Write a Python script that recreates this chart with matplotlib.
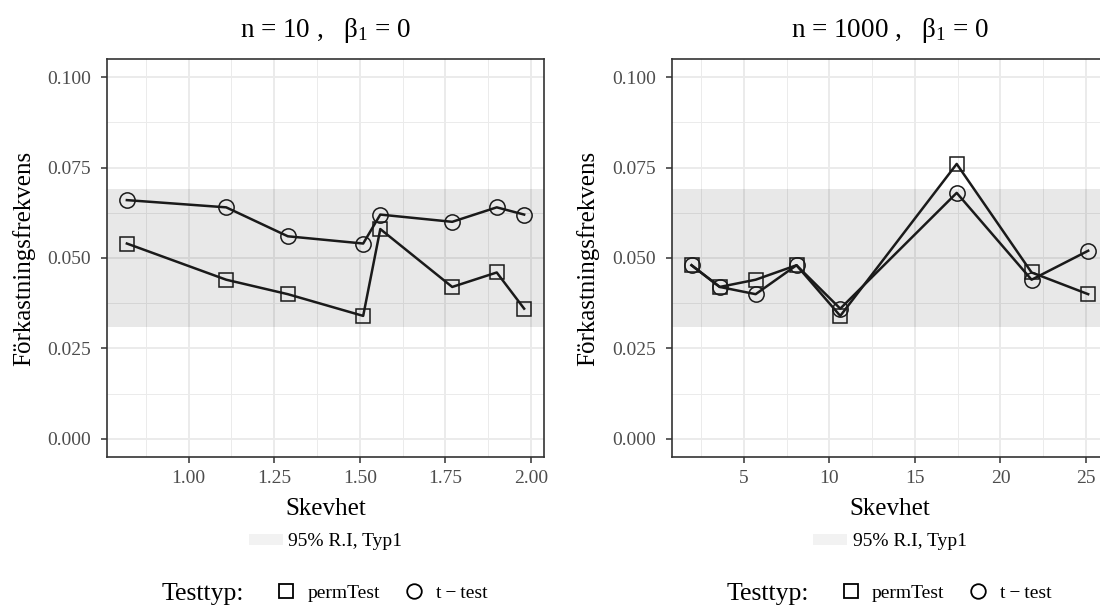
import numpy as np
import matplotlib.pyplot as plt
from matplotlib.lines import Line2D
from matplotlib.patches import Patch
from matplotlib.ticker import FixedLocator, FormatStrFormatter

plt.rcParams['font.family'] = ['Liberation Serif', 'DejaVu Serif']
plt.rcParams['mathtext.fontset'] = 'custom'
plt.rcParams['mathtext.rm'] = 'Liberation Serif'
plt.rcParams['mathtext.default'] = 'rm'

# n = 10
skev_n10 = [0.82, 1.11, 1.29, 1.51, 1.56, 1.77, 1.90, 1.98]
perm_n10 = [0.054, 0.044, 0.040, 0.034, 0.058, 0.042, 0.046, 0.036]
ttest_n10 = [0.066, 0.064, 0.056, 0.054, 0.062, 0.060, 0.064, 0.062]

# n = 1000
skev_n1000 = [1.93, 3.58, 5.68, 8.07, 10.63, 17.44, 21.82, 25.13]
perm_n1000 = [0.048, 0.042, 0.044, 0.048, 0.034, 0.076, 0.046, 0.040]
ttest_n1000 = [0.048, 0.042, 0.040, 0.048, 0.036, 0.068, 0.044, 0.052]

# 95% intervall for typ 1-fel
ri_lo, ri_hi = 0.031, 0.069

yticks = [0.000, 0.025, 0.050, 0.075, 0.100]
xticks_n10 = [1.00, 1.25, 1.50, 1.75, 2.00]
xticks_n1000 = [5, 10, 15, 20, 25]

W, H = 1100, 608
fig = plt.figure(figsize=(W / 100, H / 100), dpi=100)
fig.patch.set_facecolor('white')

line_col = '#1A1A1A'
small = 14


def panel(left_px, right_px, x, perm, tt, title, xticks, xfmt):
    ax = fig.add_axes([left_px / W, (H - 457) / H, (right_px - left_px) / W, 398 / H])
    ax.set_axisbelow(True)

    ax.axhspan(ri_lo, ri_hi, color='black', alpha=0.09, lw=0, zorder=1)
    ax.plot(x, perm, color=line_col, lw=1.8, marker='s', ms=10.5, mfc='none',
            mec=line_col, mew=1.1, zorder=3)
    ax.plot(x, tt, color=line_col, lw=1.8, marker='o', ms=11, mfc='none',
            mec=line_col, mew=1.1, zorder=3)

    # ggplot-liknande expansion
    pad = 0.05 * (max(x) - min(x))
    ax.set_xlim(min(x) - pad, max(x) + pad)
    ax.set_ylim(-0.005, 0.105)

    step = xticks[1] - xticks[0]
    minors = np.arange(xticks[0] - step / 2, xticks[-1] + step, step)
    ax.xaxis.set_major_locator(FixedLocator(xticks))
    ax.xaxis.set_minor_locator(FixedLocator(minors))
    ax.xaxis.set_major_formatter(FormatStrFormatter(xfmt))
    ax.yaxis.set_major_locator(FixedLocator(yticks))
    ax.yaxis.set_minor_locator(FixedLocator([0.0125, 0.0375, 0.0625, 0.0875]))
    ax.yaxis.set_major_formatter(FormatStrFormatter('%.3f'))

    ax.grid(which='major', color='#EBEBEB', lw=1.4)
    ax.grid(which='minor', color='#EBEBEB', lw=0.7)
    for s in ax.spines.values():
        s.set_color('#333333')
        s.set_linewidth(1.2)
    ax.tick_params(which='major', length=4.3, width=1.1, color='#333333',
                   labelcolor='#4D4D4D', labelsize=small)
    ax.tick_params(axis='x', pad=5)
    ax.tick_params(axis='y', pad=7)
    ax.tick_params(which='minor', length=0)

    ax.set_title(title, fontsize=19.5, pad=16)
    ax.set_xlabel('Skevhet', fontsize=18, labelpad=8)
    ax.set_ylabel('Förkastningsfrekvens', fontsize=18, labelpad=9)

    cx = (left_px + right_px) / 2
    fig.legend(handles=[Patch(facecolor='#F2F2F2', edgecolor='none')],
               labels=['95% R.I, Typ1'], loc='center',
               bbox_to_anchor=(cx / W, 1 - 542 / H), frameon=False,
               fontsize=small, handlelength=1.75, handleheight=0.55,
               handletextpad=0.3, borderpad=0, borderaxespad=0)

    fig.text((cx - 163.5) / W, 1 - 594 / H, 'Testtyp:', fontsize=18.5,
             ha='left', va='center')
    handles = [Line2D([], [], ls='none', marker='s', ms=10, mfc='none', mec='black', mew=1.3),
               Line2D([], [], ls='none', marker='o', ms=10.5, mfc='none', mec='black', mew=1.3)]
    fig.legend(handles=handles, labels=['permTest', 't\u2009\u2212\u2009test'], ncol=2,
               loc='center left', bbox_to_anchor=((cx - 49) / W, 1 - 593 / H),
               frameon=False, fontsize=small, handlelength=1.0, handletextpad=0.6,
               columnspacing=1.25, borderpad=0, borderaxespad=0)
    return ax


panel(107, 544, skev_n10, perm_n10, ttest_n10,
      'n = 10 ,   \u03b2$_1$ = 0', xticks_n10, '%.2f')
panel(671.7, 1108, skev_n1000, perm_n1000, ttest_n1000,
      'n = 1000 ,   \u03b2$_1$ = 0', xticks_n1000, '%d')

fig.savefig('out.png', dpi=100)
